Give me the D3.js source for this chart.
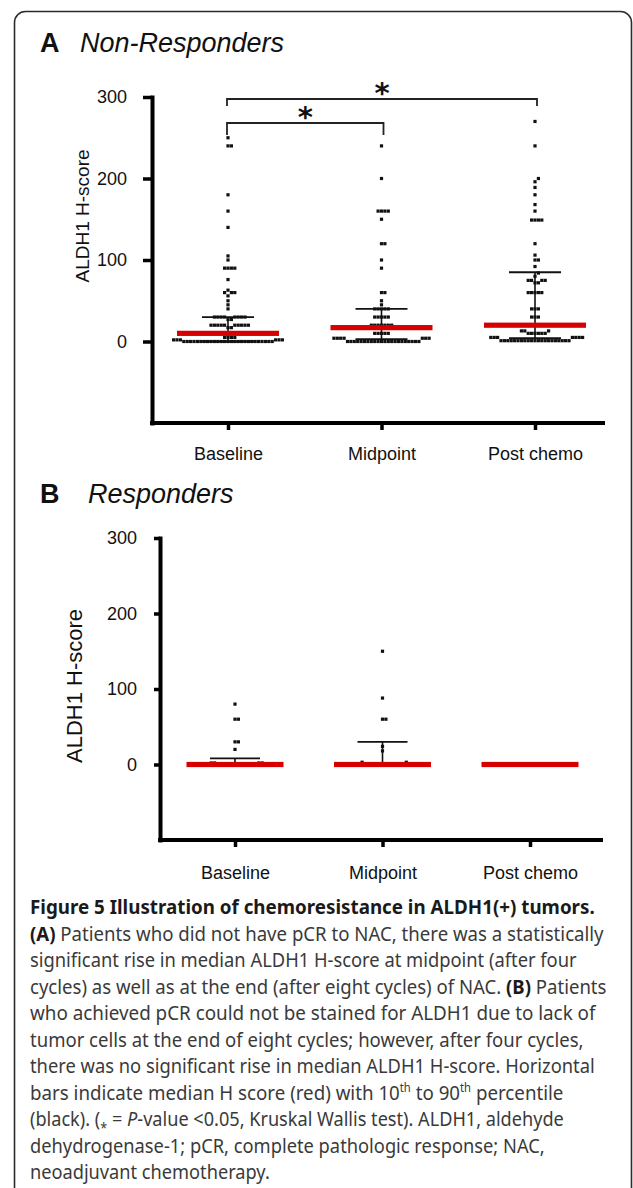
<!DOCTYPE html>
<html>
<head>
<meta charset="utf-8">
<script src="https://cdn.jsdelivr.net/npm/d3@7"></script>
<style>
  html, body { margin: 0; padding: 0; background: #fff; }
  svg { display: block; }
  .tick text { font-family: "Liberation Sans", Arial, sans-serif; fill: #111; }
</style>
</head>
<body>
<svg id="fig" width="633" height="1188"></svg>
<script>
// categories and tick values
const categories = ["Baseline", "Midpoint", "Post chemo"];
const yTicks = [0, 100, 200, 300];

// A: non-responders, ALDH1 H-score per patient
const aBaseline = [0, 0, 0, 0, 0, 0, 0, 0, 0, 0, 0, 0, 0, 0, 0, 0, 0, 0, 0, 0, 0, 0, 0, 0, 0, 0, 0,
    2, 2, 2, 2, 2, 2, 5, 5, 5, 5, 10, 10, 10, 10, 17, 17,
    20, 20, 20, 20, 20, 20, 20, 20, 20, 20, 27, 27, 30, 30, 30, 30, 30, 30, 30, 30,
    40, 45, 50, 56, 60, 60, 60, 63, 76, 90, 90, 90, 90, 100, 105, 140, 160, 180, 240, 240, 250];
const aMidpoint = [0, 0, 0, 0, 0, 0, 0, 0, 0, 0, 0, 0, 0, 0, 0, 0, 0, 0, 0, 0, 0, 0,
    4, 4, 4, 4, 4, 4, 4, 10, 10, 10, 10, 10, 20, 20, 20, 20, 20, 20, 20,
    30, 30, 30, 30, 30, 40, 40, 40, 40, 40, 45, 50, 60, 60,
    90, 100, 120, 120, 150, 160, 160, 160, 160, 200, 240];
const aPost = [1, 1, 1, 1, 1, 1, 1, 1, 1, 1, 1, 1, 1, 1, 1, 1, 1, 1, 1, 1, 1,
    5, 5, 5, 5, 5, 5, 5, 10, 10, 10, 10, 10, 10, 13, 13, 13,
    30, 30, 30, 40, 40, 40, 60, 60, 60, 60, 60, 72, 72, 75, 75, 75, 75,
    80, 84, 92, 100, 100, 106, 120, 149, 149, 149, 149, 160, 168, 180, 189, 196, 200, 240, 270];
const aMedian = [10, 17, 20];
const aP10 = [0, 3, 4];
const aP90 = [30, 40, 85];

// B: responders
const bBaseline = [0, 0, 0, 0, 0, 0, 0, 0, 0, 0, 0, 0, 2, 2, 2, 2, 20, 30, 30, 60, 60, 80];
const bMidpoint = [0, 0, 0, 0, 0, 0, 0, 0, 0, 0, 0, 0, 3, 3, 18, 24, 60, 60, 88, 150];
const bPost = [0, 0, 0, 0, 0, 0, 0, 0, 0, 0];
const bMedian = [0, 0, 0];
const bP10 = [0, 0, 0];
const bP90 = [8, 30, 0];

const captionTitle = "Figure 5 Illustration of chemoresistance in ALDH1(+) tumors.";

var svg = d3.select("#fig"),
    font = "'Liberation Sans', Arial, sans-serif",
    capFont = "'Noto Sans', 'Open Sans', sans-serif",
    red = "#d60000";

// frame
svg.append("rect")
    .attr("x", 14.5).attr("y", 11.5)
    .attr("width", 617).attr("height", 1220)
    .attr("rx", 11)
    .attr("fill", "none")
    .attr("stroke", "#2b2b2b")
    .attr("stroke-width", 1.6);

const swarm = function (values, y, step, gap) {
    // lays same-valued dots out side by side, pushing colliding ones outward
    var placed = [];
    values.slice().sort(d3.ascending).forEach(function (v) {
        var py = y(v), k = 0, dx = 0;
        while (true) {
            dx = k === 0 ? 0 : (k % 2 ? 1 : -1) * Math.ceil(k / 2) * step;
            var hit = placed.some(p => Math.abs(p.dy - py) < gap && Math.abs(p.dx - dx) < gap);
            if (!hit) break;
            k++;
        }
        placed.push({ v: v, dx: dx, dy: py });
    });
    return placed;
};

const drawPanel = function (p) {
    var g = svg.append("g");

    var x = d3.scalePoint().domain(categories).range(p.xRange),
        y = d3.scaleLinear().domain([-100, 300]).range(p.yRange);

    // title
    g.append("text")
        .attr("x", 40).attr("y", p.titleY)
        .attr("font-family", font).attr("font-weight", "bold")
        .attr("font-size", 27).attr("fill", "#111")
        .text(p.letter);
    g.append("text")
        .attr("x", p.titleX).attr("y", p.titleY)
        .attr("font-family", font).attr("font-style", "italic")
        .attr("font-size", 27).attr("fill", "#111")
        .text(p.title);

    // y axis
    var ya = g.append("g")
        .attr("transform", "translate(" + p.axisX + ",0)")
        .call(d3.axisLeft(y).tickValues(yTicks).tickSize(p.tickLen).tickSizeOuter(0).tickPadding(p.tickPad));
    ya.select(".domain").attr("stroke", "#000").attr("stroke-width", 4).attr("stroke-linecap", "square");
    ya.selectAll(".tick line").attr("stroke", "#000").attr("stroke-width", 3.5);
    ya.selectAll(".tick text").attr("font-size", 18);

    // x axis
    g.append("line")
        .attr("x1", p.axisX - 2).attr("x2", p.axisRight)
        .attr("y1", y(-100)).attr("y2", y(-100))
        .attr("stroke", "#000").attr("stroke-width", 4);
    var xa = g.append("g")
        .attr("transform", "translate(0," + y(-100) + ")")
        .call(d3.axisBottom(x).tickSize(7).tickSizeOuter(0).tickPadding(p.labelPad));
    xa.select(".domain").remove();
    xa.selectAll(".tick line").attr("stroke", "#000").attr("stroke-width", 3.5);
    xa.selectAll(".tick text").attr("font-size", 18);

    // y label
    g.append("text")
        .attr("transform", "translate(" + p.ylabX + "," + p.ylabY + ") rotate(-90)")
        .attr("text-anchor", "middle")
        .attr("dominant-baseline", "central")
        .attr("font-family", font).attr("font-size", p.ylabSize).attr("fill", "#111")
        .text("ALDH1 H-score");

    // dots
    p.groups.forEach(function (vals, i) {
        var cx = x(categories[i]);
        swarm(vals, y, 3.4, 3.3).forEach(function (d) {
            g.append("rect")
                .attr("x", cx + d.dx - 1.6).attr("y", d.dy - 1.6)
                .attr("width", 3.2).attr("height", 3.2)
                .attr("fill", "#111");
        });
    });

    // 10th-90th percentile bars
    categories.forEach(function (c, i) {
        var cx = x(c);
        if (p.p90[i] <= p.p10[i]) return;
        g.append("line")
            .attr("x1", cx).attr("x2", cx)
            .attr("y1", y(p.p10[i])).attr("y2", y(p.p90[i]))
            .attr("stroke", "#111").attr("stroke-width", 1.6);
        [p.p10[i], p.p90[i]].forEach(function (v) {
            g.append("line")
                .attr("x1", cx - p.capHalf).attr("x2", cx + p.capHalf)
                .attr("y1", y(v)).attr("y2", y(v))
                .attr("stroke", "#111").attr("stroke-width", 1.8);
        });
    });

    // medians
    categories.forEach(function (c, i) {
        g.append("rect")
            .attr("x", x(c) - p.medHalf).attr("y", y(p.median[i]) - 2.6)
            .attr("width", p.medHalf * 2).attr("height", 5.2)
            .attr("fill", red);
    });

    return { x: x, y: y, g: g };
};

var A = drawPanel({
    letter: "A", title: "Non-Responders", titleX: 80, titleY: 52,
    xRange: [228, 535], yRange: [423, 97],
    axisX: 152, axisRight: 605, tickLen: 9, tickPad: 16, labelPad: 17,
    ylabX: 82, ylabY: 216, ylabSize: 19,
    groups: [aBaseline, aMidpoint, aPost],
    median: aMedian, p10: aP10, p90: aP90,
    capHalf: 26, medHalf: 51
});

drawPanel({
    letter: "B", title: "Responders", titleX: 88, titleY: 503,
    xRange: [235, 530], yRange: [840, 538],
    axisX: 160, axisRight: 603, tickLen: 6, tickPad: 17, labelPad: 19,
    ylabX: 74, ylabY: 686, ylabSize: 22,
    groups: [bBaseline, bMidpoint, bPost],
    median: bMedian, p10: bP10, p90: bP90,
    capHalf: 25, medHalf: 48.5
});

// significance brackets in A
var brackets = [
    { from: "Baseline", to: "Post chemo", y: 99, drop: 7 },
    { from: "Baseline", to: "Midpoint", y: 123, drop: 12 }
];
brackets.forEach(function (b) {
    var x1 = A.x(b.from) - 1, x2 = A.x(b.to) + 2;
    A.g.append("path")
        .attr("d", "M" + x1 + "," + (b.y + b.drop) + "V" + b.y + "H" + x2 + "V" + (b.y + b.drop))
        .attr("fill", "none").attr("stroke", "#222").attr("stroke-width", 1.8);
    A.g.append("text")
        .attr("x", (x1 + x2) / 2).attr("y", b.y + 4)
        .attr("text-anchor", "middle")
        .attr("font-family", "'DejaVu Sans', sans-serif").attr("font-size", 29)
        .attr("font-weight", "bold")
        .attr("fill", "#111")
        .text("*");
});

// caption, one entry per printed line (w = printed width)
var capLines = [
    { w: 565, parts: [["b", captionTitle]] },
    { w: 574, parts: [["b", "(A)"], ["", " Patients who did not have pCR to NAC, there was a statistically"]] },
    { w: 547, parts: [["", "significant rise in median ALDH1 H-score at midpoint (after four"]] },
    { w: 577, parts: [["", "cycles) as well as at the end (after eight cycles) of NAC. "], ["b", "(B)"], ["", " Patients"]] },
    { w: 566, parts: [["", "who achieved pCR could not be stained for ALDH1 due to lack of"]] },
    { w: 554, parts: [["", "tumor cells at the end of eight cycles; however, after four cycles,"]] },
    { w: 565, parts: [["", "there was no significant rise in median ALDH1 H-score. Horizontal"]] },
    { w: 534, parts: [["", "bars indicate median H score (red) with 10"], ["sup", "th"], ["", " to 90"], ["sup", "th"], ["", " percentile"]] },
    { w: 534, parts: [["", "(black). ("], ["small", "\u204E"], ["", " = "], ["i", "P"], ["", "-value <0.05, Kruskal Wallis test). ALDH1, aldehyde"]] },
    { w: 515, parts: [["", "dehydrogenase-1; pCR, complete pathologic response; NAC,"]] },
    { w: 240, parts: [["", "neoadjuvant chemotherapy."]] }
];

capLines.forEach(function (line, i) {
    var t = svg.append("text")
        .attr("x", 0).attr("y", 0)
        .attr("font-family", capFont).attr("font-size", 20)
        .attr("fill", i === 0 ? "#1a1a1a" : "#3a3a3a");
    var lift = 0;
    line.parts.forEach(function (part) {
        var s = t.append("tspan").text(part[1]);
        if (lift) { s.attr("dy", lift); lift = 0; }
        if (part[0] === "b") s.attr("font-weight", "bold").attr("fill", "#1a1a1a");
        if (part[0] === "i") s.attr("font-style", "italic");
        if (part[0] === "small") s.attr("font-size", 14);
        if (part[0] === "sup") { s.attr("font-size", 12).attr("dy", -8); lift = 8; }
    });
    // squeeze the line horizontally to the printed width
    var natural = t.node().getComputedTextLength();
    t.attr("transform", "translate(30," + (914 + i * 26.5) + ") scale(" + (line.w / natural) + ",1)");
});
</script>
</body>
</html>
